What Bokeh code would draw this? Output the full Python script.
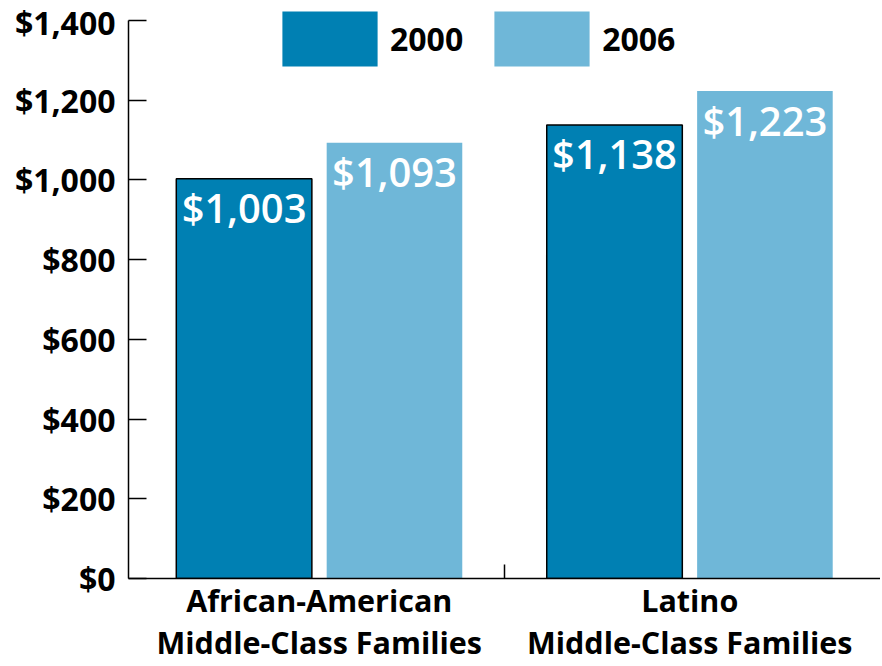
from bokeh.plotting import figure
from bokeh.models import (FactorRange, Range1d, ColumnDataSource, NumeralTickFormatter,
                          FixedTicker, Legend, LegendItem)
from bokeh.transform import dodge
from bokeh.core.properties import value
from bokeh.embed import file_html
from bokeh.resources import INLINE

categories = ["African-American\nMiddle-Class Families", "Latino\nMiddle-Class Families"]
years = ["2000", "2006"]
values_2000 = [1003, 1138]
values_2006 = [1093, 1223]
y_ticks = [0, 200, 400, 600, 800, 1000, 1200, 1400]

color_2000 = "#0080B3"
color_2006 = "#6FB7D8"
FONT = "Open Sans"

src = ColumnDataSource(data=dict(
    cat=categories,
    v2000=values_2000,
    v2006=values_2006,
    l2000=[f"${v:,}" for v in values_2000],
    l2006=[f"${v:,}" for v in values_2006],
))

p = figure(x_range=FactorRange(*categories, range_padding=0.015, range_padding_units="absolute"),
           y_range=Range1d(0, 1425),
           width=880, height=666, output_backend="svg", toolbar_location=None,
           min_border_left=128, min_border_top=10, min_border_right=0, min_border_bottom=87)
p.outline_line_color = None
p.xgrid.grid_line_color = None
p.ygrid.grid_line_color = None
p.background_fill_color = "white"

off = 0.203
bw = 0.366
r1 = p.vbar(x=dodge("cat", -off, range=p.x_range), top="v2000", width=bw, source=src,
            fill_color=color_2000, line_color=None)
p.vbar(x=dodge("cat", -off, range=p.x_range), top="v2000", width=bw, source=src,
       fill_color=None, line_color="black", line_width=1.5)
r2 = p.vbar(x=dodge("cat", off, range=p.x_range), top="v2006", width=bw, source=src,
            fill_color=color_2006, line_color=None)

VAL_FONT = value("Open Sans SemiBold")
p.text(x=dodge("cat", -off, range=p.x_range), y="v2000", text="l2000", source=src,
       text_color="white", text_font=VAL_FONT, text_font_size="40px",
       text_align="center", text_baseline="alphabetic", y_offset=29)
p.text(x=dodge("cat", off, range=p.x_range), y="v2006", text="l2006", source=src,
       text_color="white", text_font=VAL_FONT, text_font_size="40px",
       text_align="center", text_baseline="alphabetic", y_offset=29)

# category separator tick on the x axis
seps = [float(i) for i in range(1, len(categories))]
p.ray(x=seps, y=[0] * len(seps), length=14, length_units="screen", angle=90,
      angle_units="deg", line_color="black", line_width=1.5)

# y axis
ya = p.yaxis[0]
ya.ticker = FixedTicker(ticks=y_ticks)
ya.bounds = (y_ticks[0], y_ticks[-1])
ya.formatter = NumeralTickFormatter(format="$0,0")
ya.major_tick_in = 18
ya.major_tick_out = 0
ya.minor_tick_line_color = None
ya.axis_line_width = 1.5
ya.major_tick_line_width = 1.5
ya.major_label_standoff = 13
ya.major_label_text_font = FONT
ya.major_label_text_font_style = "bold"
ya.major_label_text_font_size = "32px"
ya.major_label_text_color = "black"

# x axis
xa = p.xaxis[0]
xa.major_tick_line_color = None
xa.axis_line_width = 1.5
xa.major_label_standoff = -6
xa.major_label_text_font = FONT
xa.major_label_text_font_style = "bold"
xa.major_label_text_font_size = "30.5px"
xa.major_label_text_color = "black"
xa.major_label_text_line_height = 1.02

legend = Legend(items=[LegendItem(label=years[0], renderers=[r1]),
                       LegendItem(label=years[1], renderers=[r2])],
                orientation="horizontal", location=(142, 505),
                glyph_width=119, glyph_height=69, label_standoff=1, spacing=19,
                padding=0, margin=0, border_line_color=None, background_fill_alpha=0,
                label_text_font=FONT, label_text_font_style="bold",
                label_text_font_size="32px", label_text_color="black")
p.add_layout(legend, "center")

open("out.html", "w").write(file_html(p, INLINE))
